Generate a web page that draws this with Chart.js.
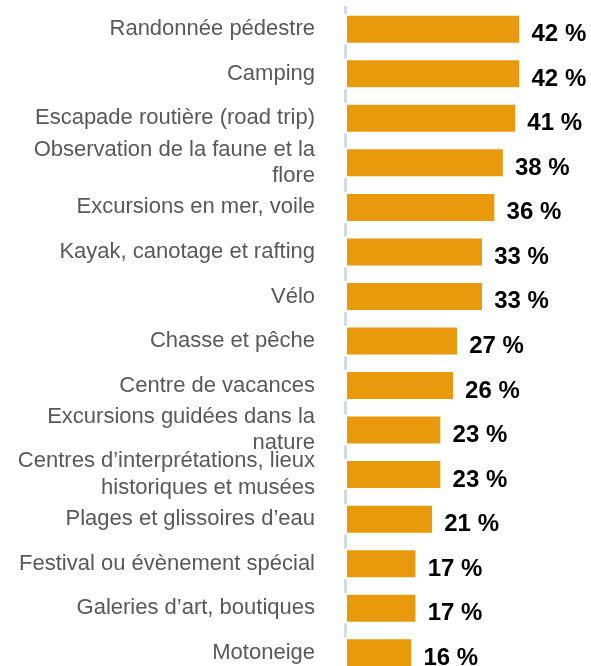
<!DOCTYPE html>
<html>
<head>
<meta charset="utf-8">
<script src="https://cdn.jsdelivr.net/npm/chart.js@4.4.1/dist/chart.umd.min.js"></script>
<style>
  html, body { margin: 0; padding: 0; background: #fff; overflow: hidden; }
  #wrap { position: relative; width: 591px; height: 675px; }
</style>
</head>
<body>
<div id="wrap"><canvas id="myChart"></canvas></div>
<script>
const categories = [
  "Randonnée pédestre",
  "Camping",
  "Escapade routière (road trip)",
  ["Observation de la faune et la", "flore"],
  "Excursions en mer, voile",
  "Kayak, canotage et rafting",
  "Vélo",
  "Chasse et pêche",
  "Centre de vacances",
  ["Excursions guidées dans la", "nature"],
  ["Centres d’interprétations, lieux", "historiques et musées"],
  "Plages et glissoires d’eau",
  "Festival ou évènement spécial",
  "Galeries d’art, boutiques",
  "Motoneige"
];
const values = [42, 42, 41, 38, 36, 33, 33, 27, 26, 23, 23, 21, 17, 17, 16];
const valueLabels = ["42 %", "42 %", "41 %", "38 %", "36 %", "33 %", "33 %", "27 %", "26 %", "23 %", "23 %", "21 %", "17 %", "17 %", "16 %"];

const fontFamily = "'Liberation Sans', Arial, Helvetica, sans-serif";

// bold numbers right of each bar
const valueLabelPlugin = {
  id: "valueLabels",
  afterDatasetsDraw(chart) {
    const ctx = chart.ctx;
    const meta = chart.getDatasetMeta(0);
    ctx.save();
    ctx.font = "bold 24px " + fontFamily;
    ctx.fillStyle = "#000000";
    ctx.textAlign = "left";
    ctx.textBaseline = "alphabetic";
    meta.data.forEach((bar, i) => {
      ctx.fillText(valueLabels[i], bar.x + 12, bar.y + 12);
    });
    ctx.restore();
  }
};

new Chart(document.getElementById("myChart"), {
  type: "bar",
  data: {
    labels: categories,
    datasets: [
      {
        data: values,
        backgroundColor: "#E89A0C",
        borderColor: "#FFFFFF",
        borderWidth: { left: 3, top: 2, bottom: 2, right: 0 },
        borderSkipped: false,
        // start the bar a pixel left so its white edge hides the axis line
        base: -0.24,
        clip: false,
        barPercentage: 0.696,
        categoryPercentage: 1.0
      }
    ]
  },
  options: {
    indexAxis: "y",
    responsive: true,
    maintainAspectRatio: false,
    animation: false,
    layout: { padding: { top: 7, bottom: 0, left: 0, right: 0 } },
    plugins: {
      legend: { display: false },
      tooltip: { enabled: false }
    },
    scales: {
      x: {
        display: false,
        min: 0,
        max: 59.2
      },
      y: {
        grid: { display: false, drawTicks: false, lineWidth: 0 },
        border: { display: true, color: "#D3DAEA", width: 3 },
        ticks: {
          autoSkip: false,
          color: "#595959",
          padding: 30,
          font: { family: fontFamily, size: 22, lineHeight: 1.2 }
        },
        afterFit(scale) {
          scale.width = 345;
          scale.paddingTop = 0;
          scale.paddingBottom = 0;
        }
      }
    }
  },
  plugins: [valueLabelPlugin]
});
</script>
</body>
</html>
